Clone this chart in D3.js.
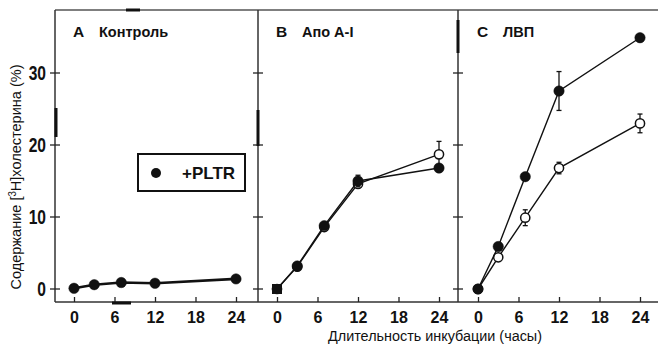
<!DOCTYPE html>
<html><head><meta charset="utf-8">
<script src="https://cdn.jsdelivr.net/npm/d3@7"></script>
<style>body{margin:0;background:#fff}svg{display:block}text{font-family:"Liberation Sans",Arial,sans-serif;fill:#111}</style>
</head><body><svg id="c" width="658" height="347"></svg>
<script>
const hoursTicks = [0, 6, 12, 18, 24];
const yTicks = [0, 10, 20, 30];
const panelLetters = ["A", "B", "C"];
const panelNames = ["Контроль", "Апо A-I", "ЛВП"];
// filled = +PLTR, open = without PLTR
const hoursA = [0, 3, 7, 12, 24];
const filledA = [0.1, 0.6, 0.9, 0.8, 1.4];
const hoursB = [0, 3, 7, 12, 24];
const filledB = [0, 3.2, 8.8, 15.0, 16.8];
const filledBErr = [0, 0, 0, 0.8, 0];
const openB = [0, 3.1, 8.6, 14.6, 18.7];
const openBErr = [0, 0, 0, 0, 1.8];
const hoursC = [0, 3, 7, 12, 24];
const filledC = [0, 5.9, 15.6, 27.5, 34.9];
const filledCErr = [0, 0, 0, 2.7, 0];
const openC = [0, 4.4, 9.9, 16.8, 23.0];
const openCErr = [0, 0, 1.1, 0.8, 1.3];
const legendLabel = "+PLTR";
const xTitle = "Длительность инкубации (часы)";

const svg = d3.select("#c");
const y = d3.scaleLinear().domain([0, 30]).range([289, 73]);
const frameTop = 10, frameBot = 302;
const panels = [
  {left: 55, right: 258, x0: 74, series: [{h: hoursA, v: filledA, e: null, filled: true, lw: 2.6}]},
  {left: 258, right: 458, x0: 277, series: [
    {h: hoursB, v: openB, e: openBErr, filled: false, lw: 1.4},
    {h: hoursB, v: filledB, e: filledBErr, filled: true, lw: 1.4, square0: true}]},
  {left: 458, right: 662, x0: 478, series: [
    {h: hoursC, v: openC, e: openCErr, filled: false, lw: 1.4},
    {h: hoursC, v: filledC, e: filledCErr, filled: true, lw: 1.4}]}
];

// top frame line
svg.append("line").attr("x1", 55).attr("x2", 658).attr("y1", frameTop).attr("y2", frameTop)
  .attr("stroke", "#555").attr("stroke-width", 1.5);
// bottom axis line
svg.append("line").attr("x1", 55).attr("x2", 658).attr("y1", frameBot).attr("y2", frameBot)
  .attr("stroke", "#333").attr("stroke-width", 1.6);

panels.forEach((p, i) => {
  const x = d3.scaleLinear().domain([0, 24]).range([p.x0, p.x0 + 162]);
  const g = svg.append("g");
  // left border
  g.append("line").attr("x1", p.left).attr("x2", p.left).attr("y1", frameTop).attr("y2", frameBot)
    .attr("stroke", "#333").attr("stroke-width", 1.5);
  // y ticks (crossing border)
  yTicks.forEach(t => {
    g.append("line").attr("x1", p.left - 5).attr("x2", p.left + 5)
      .attr("y1", y(t)).attr("y2", y(t)).attr("stroke", "#222").attr("stroke-width", 1.3);
  });
  // x axis ticks + labels using d3 axis
  const ax = d3.axisBottom(x).tickValues(hoursTicks).tickSizeInner(-5).tickSizeOuter(0).tickPadding(10);
  const axg = g.append("g").attr("transform", `translate(0,${frameBot})`).call(ax);
  axg.select(".domain").remove();
  axg.selectAll(".tick line").attr("stroke", "#222").attr("stroke-width", 1.3);
  axg.selectAll(".tick text").attr("font-size", 16).attr("font-weight", "bold")
    .attr("fill", "#111").attr("font-family", "Liberation Sans, Arial, sans-serif");

  // titles
  g.append("text").attr("x", p.x0 - 1).attr("y", 36.5).attr("font-size", 15.5).attr("font-weight", "bold")
    .text(panelLetters[i]);
  g.append("text").attr("x", p.x0 + 25).attr("y", 36.5).attr("font-size", 14.5).attr("font-weight", "bold")
    .text(panelNames[i]);

  const line = d3.line().x(d => x(d[0])).y(d => y(d[1]));
  p.series.forEach(s => {
    const pts = s.h.map((h, k) => [h, s.v[k], s.e ? s.e[k] : 0]);
    g.append("path").attr("d", line(pts)).attr("fill", "none").attr("stroke", "#111").attr("stroke-width", s.lw);
    pts.forEach(d => {
      if (d[2] > 0) {
        const cx = x(d[0]);
        g.append("line").attr("x1", cx).attr("x2", cx).attr("y1", y(d[1] - d[2])).attr("y2", y(d[1] + d[2]))
          .attr("stroke", "#111").attr("stroke-width", 1.3);
        [d[1] - d[2], d[1] + d[2]].forEach(v => g.append("line").attr("x1", cx - 2.5).attr("x2", cx + 2.5)
          .attr("y1", y(v)).attr("y2", y(v)).attr("stroke", "#111").attr("stroke-width", 1.3));
      }
    });
    pts.forEach((d, k) => {
      if (s.square0 && k === 0) {
        g.append("rect").attr("x", x(d[0]) - 5).attr("y", y(d[1]) - 5).attr("width", 10).attr("height", 10).attr("fill", "#111");
      } else {
        g.append("circle").attr("cx", x(d[0])).attr("cy", y(d[1])).attr("r", s.filled ? 5.2 : 4.6)
          .attr("fill", s.filled ? "#111" : "#fff").attr("stroke", "#111").attr("stroke-width", s.filled ? 0.5 : 1.5);
      }
    });
  });
});

// y tick labels (panel A only)
yTicks.forEach(t => {
  svg.append("text").attr("transform", `translate(46,${y(t) + 7}) scale(0.8,1)`)
    .attr("text-anchor", "end").attr("font-size", 19.5).attr("font-weight", "bold").text(t);
});

// y title
const yt = svg.append("text").attr("transform", "translate(21,177) rotate(-90)")
  .attr("text-anchor", "middle").attr("font-size", 15).attr("textLength", 225).attr("lengthAdjust", "spacingAndGlyphs");
yt.append("tspan").text("Содержание [");
yt.append("tspan").attr("font-size", 10).attr("dy", -5).text("3");
yt.append("tspan").attr("dy", 5).text("H]холестерина (%)");

// x title
svg.append("text").attr("x", 435).attr("y", 341).attr("text-anchor", "middle").attr("font-size", 15.5)
  .attr("textLength", 214).attr("lengthAdjust", "spacingAndGlyphs").text(xTitle);

// legend
svg.append("rect").attr("x", 138).attr("y", 154).attr("width", 107).attr("height", 37)
  .attr("fill", "#fff").attr("stroke", "#111").attr("stroke-width", 2);
svg.append("circle").attr("cx", 156).attr("cy", 173).attr("r", 5).attr("fill", "#111");
svg.append("text").attr("x", 182).attr("y", 179).attr("font-size", 17).attr("font-weight", "bold").text(legendLabel);

// scan artifacts: thicker border fragments
const frags = [[56, 108, 56, 137], [258, 110, 258, 146], [458, 20, 458, 53]];
frags.forEach(f => svg.append("line").attr("x1", f[0]).attr("y1", f[1]).attr("x2", f[2]).attr("y2", f[3])
  .attr("stroke", "#111").attr("stroke-width", 3));
svg.append("line").attr("x1", 126).attr("x2", 140).attr("y1", 10).attr("y2", 10).attr("stroke", "#111").attr("stroke-width", 3);
svg.append("line").attr("x1", 112).attr("x2", 131).attr("y1", 303).attr("y2", 303).attr("stroke", "#111").attr("stroke-width", 3);
</script></body></html>
